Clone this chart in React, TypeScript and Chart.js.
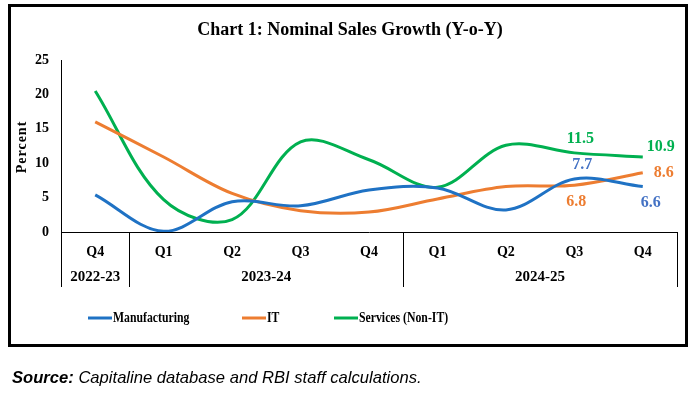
import React, { useEffect, useRef } from "react";
import { Chart, registerables } from "chart.js";

Chart.register(...registerables);

const quarters = ["Q4", "Q1", "Q2", "Q3", "Q4", "Q1", "Q2", "Q3", "Q4"];
const years = ["2022-23", "2023-24", "2024-25"];
const yearSpans = [1, 4, 4];
const manufacturing = [5.4, 0.1, 4.4, 3.8, 6.1, 6.4, 3.2, 7.7, 6.6];
const it = [16.0, 10.9, 5.6, 3.1, 2.9, 4.8, 6.6, 6.8, 8.6];
const services = [20.5, 4.7, 1.8, 13.1, 10.5, 6.5, 12.6, 11.5, 10.9];
const seriesNames = ["Manufacturing", "IT", "Services (Non-IT)"];
const labelledIndexes = [7, 8];

const COLORS = ["#1F72C4", "#ED7D31", "#00B050"];
const LABEL_COLORS = ["#4472C4", "#ED7D31", "#00B050"];
// label offsets [dx, dy] per series per labelled index
const LABEL_OFFSETS: number[][][] = [
  [[8, -14], [8, 16]],
  [[2, 17], [21, 0]],
  [[6, -14], [18, -10]],
];

const SERIF = "'Liberation Serif', 'Times New Roman', serif";

const decorPlugin = {
  id: "decor",
  beforeDraw(chart: any) {
    const ctx = chart.ctx;
    ctx.save();
    ctx.fillStyle = "#fff";
    ctx.fillRect(0, 0, chart.width, chart.height);
    ctx.strokeStyle = "#000";
    ctx.lineWidth = 3;
    ctx.strokeRect(9.5, 5.5, 677, 340);
    ctx.restore();
  },
  afterDraw(chart: any) {
    const ctx = chart.ctx;
    const xs = chart.scales.x;
    const area = chart.chartArea;
    ctx.save();
    // Title
    ctx.fillStyle = "#000";
    ctx.font = `bold 18px ${SERIF}`;
    ctx.textAlign = "center";
    ctx.textBaseline = "middle";
    ctx.fillText("Chart 1: Nominal Sales Growth (Y-o-Y)", 350, 30);

    // Y title
    ctx.save();
    ctx.translate(22, 147);
    ctx.rotate(-Math.PI / 2);
    ctx.font = `bold 14px ${SERIF}`;
    (ctx as any).letterSpacing = "1px";
    ctx.fillText("Percent", 0, 0);
    ctx.restore();

    // Category table
    const tableBottom = 287;
    const base = area.bottom;
    ctx.strokeStyle = "#000";
    ctx.lineWidth = 1;
    const vline = (x: number) => {
      ctx.beginPath();
      ctx.moveTo(Math.round(x) + 0.5, base);
      ctx.lineTo(Math.round(x) + 0.5, tableBottom);
      ctx.stroke();
    };
    vline(area.left);
    vline(area.right);
    ctx.font = `bold 14px ${SERIF}`;
    quarters.forEach((q, i) => {
      ctx.fillText(q, xs.getPixelForValue(i), 252);
    });
    ctx.font = `bold 15px ${SERIF}`;
    let start = 0;
    years.forEach((y, k) => {
      const end = start + yearSpans[k] - 1;
      const x0 = start === 0 ? area.left : (xs.getPixelForValue(start - 1) + xs.getPixelForValue(start)) / 2;
      const x1 = end === quarters.length - 1 ? area.right : (xs.getPixelForValue(end) + xs.getPixelForValue(end + 1)) / 2;
      if (start > 0) vline(x0);
      ctx.fillText(y, (x0 + x1) / 2, 277);
      start = end + 1;
    });

    // Data labels
    ctx.font = `bold 16px ${SERIF}`;
    chart.data.datasets.forEach((ds: any, si: number) => {
      const meta = chart.getDatasetMeta(si);
      labelledIndexes.forEach((idx, li) => {
        const pt = meta.data[idx];
        const [dx, dy] = LABEL_OFFSETS[si][li];
        ctx.fillStyle = LABEL_COLORS[si];
        ctx.fillText(ds.data[idx].toFixed(1), pt.x + dx, pt.y + dy);
      });
    });

    // Legend
    const legendY = 318;
    const legendX = [88, 242, 334];
    ctx.textAlign = "left";
    ctx.font = `bold 14px ${SERIF}`;
    seriesNames.forEach((name, i) => {
      ctx.strokeStyle = COLORS[i];
      ctx.lineWidth = 3;
      ctx.beginPath();
      ctx.moveTo(legendX[i], legendY);
      ctx.lineTo(legendX[i] + 24, legendY);
      ctx.stroke();
      ctx.fillStyle = "#000";
      ctx.save();
      ctx.translate(legendX[i] + 25, legendY);
      ctx.scale(0.84, 1);
      ctx.fillText(name, 0, 0);
      ctx.restore();
    });

    // Source
    const sy = 378;
    ctx.font = `italic bold 16.6px 'Liberation Sans', Arial, sans-serif`;
    ctx.fillText("Source:", 12, sy);
    const w = ctx.measureText("Source: ").width;
    ctx.font = `italic 16.6px 'Liberation Sans', Arial, sans-serif`;
    ctx.fillText("Capitaline database and RBI staff calculations.", 12 + w, sy);
    ctx.restore();
  },
};

export default function App() {
  const ref = useRef<HTMLCanvasElement>(null);
  useEffect(() => {
    const mk = (data: number[], i: number) => ({
      label: seriesNames[i],
      data,
      borderColor: COLORS[i],
      backgroundColor: COLORS[i],
      borderWidth: 3,
      pointRadius: 0,
      tension: 0.35,
      fill: false,
    });
    const chart = new Chart(ref.current!, {
      type: "line",
      data: {
        labels: quarters,
        datasets: [mk(manufacturing, 0), mk(it, 1), mk(services, 2)],
      },
      options: {
        animation: false,
        responsive: false,
        devicePixelRatio: 1,
        layout: { padding: { top: 60, right: 18, left: 0, bottom: 0 } },
        plugins: { legend: { display: false }, title: { display: false }, tooltip: { enabled: false } },
        scales: {
          x: {
            offset: true,
            grid: { display: false, drawTicks: false },
            ticks: { display: false },
            border: { display: true, color: "#000", width: 1 },
            afterFit: (s: any) => { s.height = 393 - 232; },
          },
          y: {
            min: 0,
            max: 25,
            ticks: { stepSize: 5, color: "#000", padding: 12, font: { family: SERIF, size: 14, weight: "bold" } },
            grid: { display: false, drawTicks: false },
            border: { display: true, color: "#000", width: 1 },
            afterFit: (s: any) => { s.width = 61; },
          },
        },
      },
      plugins: [decorPlugin],
    });
    return () => chart.destroy();
  }, []);
  return (
    <div style={{ position: "fixed", left: 0, top: 0, width: 695, height: 393, background: "#fff" }}>
      <canvas ref={ref} width={695} height={393} style={{ display: "block" }} />
    </div>
  );
}
